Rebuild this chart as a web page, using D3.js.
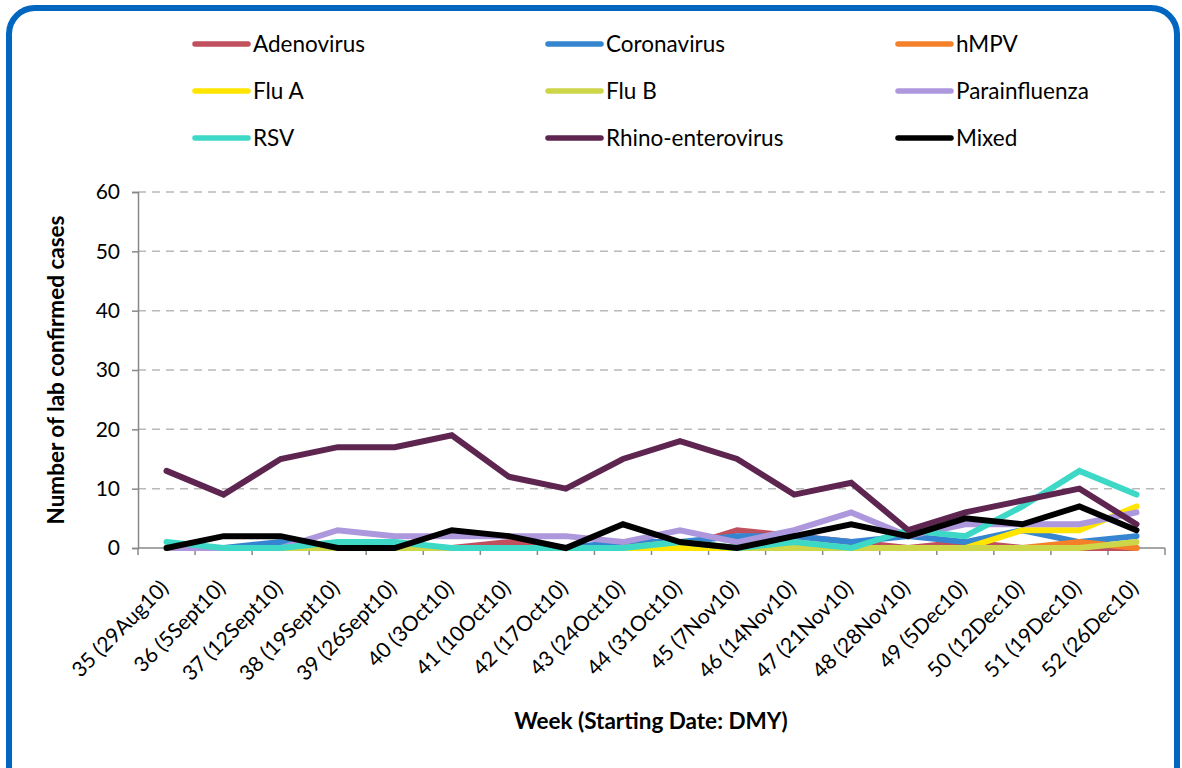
<!DOCTYPE html>
<html>
<head>
<meta charset="utf-8">
<script src="https://cdn.jsdelivr.net/npm/d3@7"></script>
<style>
  html, body { margin: 0; padding: 0; background: #fff; }
  svg { display: block; font-family: Lato, "Liberation Sans", Arial, sans-serif; }
</style>
</head>
<body>
<svg id="chart" width="1182" height="768"></svg>
<script>
const weeks = ["35 (29Aug10)","36 (5Sept10)","37 (12Sept10)","38 (19Sept10)","39 (26Sept10)","40 (3Oct10)","41 (10Oct10)","42 (17Oct10)","43 (24Oct10)","44 (31Oct10)","45 (7Nov10)","46 (14Nov10)","47 (21Nov10)","48 (28Nov10)","49 (5Dec10)","50 (12Dec10)","51 (19Dec10)","52 (26Dec10)"];
const yTicks = [0, 10, 20, 30, 40, 50, 60];

const adenovirus    = [0,0,0,0,0,0,1,0,0,0,3,2,1,0,1,0,0,0];
const coronavirus   = [0,0,1,0,0,0,0,0,1,1,2,2,1,2,1,3,1,2];
const hmpv          = [0,0,0,0,0,0,0,0,0,0,0,0,0,0,0,0,1,0];
const fluA          = [0,0,0,0,0,0,0,0,0,0,0,0,0,0,0,3,3,7];
const fluB          = [0,0,0,0,0,0,0,0,0,1,0,0,0,0,0,0,0,1];
const parainfluenza = [0,0,0,3,2,2,2,2,1,3,1,3,6,2,4,4,4,6];
const rsv           = [1,0,0,1,1,0,0,0,0,1,0,1,0,3,2,7,13,9];
const rhino         = [13,9,15,17,17,19,12,10,15,18,15,9,11,3,6,8,10,4];
const mixed         = [0,2,2,0,0,3,2,0,4,1,0,2,4,2,5,4,7,3];

const seriesNames  = ["Adenovirus","Coronavirus","hMPV","Flu A","Flu B","Parainfluenza","RSV","Rhino-enterovirus","Mixed"];
const seriesValues = [adenovirus, coronavirus, hmpv, fluA, fluB, parainfluenza, rsv, rhino, mixed];
const seriesColors = ["#c0505d","#3585d0","#f5802a","#ffe500","#cdd548","#ad97dd","#3dd8c6","#5d2550","#000000"];

const FONT = "Lato, 'Liberation Sans', Arial, sans-serif";
const svg = d3.select("#chart");

// Frame
svg.append("rect")
  .attr("x", 9).attr("y", 8).attr("width", 1168).attr("height", 800)
  .attr("rx", 26).attr("ry", 26)
  .attr("fill", "none").attr("stroke", "#0066c0").attr("stroke-width", 6);

const pLeft = 138, pRight = 1165, pTop = 192, pBottom = 548;
const x = d3.scaleBand().domain(weeks).range([pLeft, pRight]);
const y = d3.scaleLinear().domain([0, 60]).range([pBottom, pTop]);

// gridlines
svg.append("g").selectAll("line").data(yTicks.filter(d => d > 0)).join("line")
  .attr("x1", pLeft).attr("x2", pRight)
  .attr("y1", d => y(d)).attr("y2", d => y(d))
  .attr("stroke", "#b9b9b9").attr("stroke-width", 1.5).attr("stroke-dasharray", "8,6");

// y axis
const yAxis = svg.append("g").attr("transform", `translate(${pLeft},0)`)
  .call(d3.axisLeft(y).tickValues(yTicks).tickSize(6).tickPadding(12));
yAxis.select(".domain").attr("stroke", "#888").attr("stroke-width", 1.5);
yAxis.selectAll(".tick line").attr("stroke", "#888").attr("stroke-width", 1.5);
yAxis.selectAll("text").attr("font-size", 21).attr("fill", "#000")
  .attr("font-family", FONT);

// x axis (ticks at band boundaries)
const xg = svg.append("g");
xg.append("line").attr("x1", pLeft).attr("x2", pRight).attr("y1", pBottom).attr("y2", pBottom)
  .attr("stroke", "#888").attr("stroke-width", 1.5);
const bounds = weeks.map(w => x(w)).concat([x(weeks[weeks.length-1]) + x.bandwidth()]);
xg.selectAll("line.tk").data(bounds).join("line").attr("class", "tk")
  .attr("x1", d => d).attr("x2", d => d).attr("y1", pBottom).attr("y2", pBottom + 7)
  .attr("stroke", "#888").attr("stroke-width", 1.5);
xg.selectAll("text").data(weeks).join("text")
  .attr("transform", d => `translate(${x(d) + x.bandwidth()/2 - 2},${pBottom + 36}) rotate(-45)`)
  .attr("text-anchor", "end").attr("dy", "0.35em")
  .attr("font-size", 21).attr("fill", "#000")
  .text(d => d);

// axis titles
svg.append("text")
  .attr("transform", `translate(64,${(pTop + pBottom) / 2}) rotate(-90)`)
  .attr("text-anchor", "middle").attr("font-size", 22.5).attr("font-weight", "bold")
  .text("Number of lab confirmed cases");
svg.append("text")
  .attr("x", 651).attr("y", 729)
  .attr("text-anchor", "middle").attr("font-size", 22.5).attr("font-weight", "bold")
  .text("Week (Starting Date: DMY)");

// lines
const line = d3.line().x((d, i) => x(weeks[i]) + x.bandwidth()/2).y(d => y(d));
svg.append("g").selectAll("path").data(seriesValues).join("path")
  .attr("d", d => line(d))
  .attr("fill", "none")
  .attr("stroke", (d, i) => seriesColors[i])
  .attr("stroke-width", 6)
  .attr("stroke-linejoin", "miter")
  .attr("stroke-linecap", "round");

// legend
const colX = [195, 548, 898];
const rowY = [44, 91, 138];
const lg = svg.append("g").selectAll("g").data(seriesNames).join("g")
  .attr("transform", (d, i) => `translate(${colX[i % 3]},${rowY[Math.floor(i / 3)]})`);
lg.append("line").attr("x1", 0).attr("x2", 53).attr("y1", 0).attr("y2", 0)
  .attr("stroke", (d, i) => seriesColors[i]).attr("stroke-width", 5.5).attr("stroke-linecap", "round");
lg.append("text").attr("x", 58).attr("y", 0).attr("dy", "0.35em")
  .attr("font-size", 22.5).attr("fill", "#000").text(d => d);
</script>
</body>
</html>
